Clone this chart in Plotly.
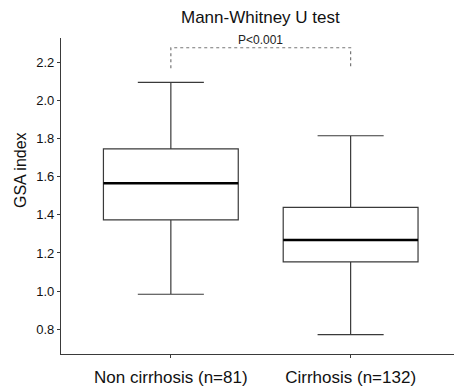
import plotly.graph_objects as go

# ---- data ----
categories = ["Non cirrhosis (n=81)", "Cirrhosis (n=132)"]
positions = [0, 1]
q1 = [1.373, 1.153]
median = [1.565, 1.268]
q3 = [1.745, 1.439]
lower_whisker = [0.984, 0.772]
upper_whisker = [2.094, 1.814]
y_ticks = [0.8, 1.0, 1.2, 1.4, 1.6, 1.8, 2.0, 2.2]
title_text = "Mann-Whitney U test"
p_text = "P<0.001"
y_title = "GSA index"

BOX_W = 0.75
FONT = "Liberation Sans, Arial, sans-serif"
LINE_C = "#3a3a3a"

W, H = 455, 386
ML, MR, MT, MB = 61, 1, 38, 32
PW, PH = W - ML - MR, H - MT - MB


def px_to_paper(px, py):
    return (px - ML) / PW, (H - MB - py) / PH


fig = go.Figure()
for i in range(len(categories)):
    fig.add_trace(go.Box(
        x=[positions[i]], q1=[q1[i]], median=[median[i]], q3=[q3[i]],
        lowerfence=[lower_whisker[i]], upperfence=[upper_whisker[i]],
        width=BOX_W, whiskerwidth=0.49,
        fillcolor="white", line=dict(color=LINE_C, width=1.2),
        boxpoints=False, showlegend=False, hoverinfo="skip",
    ))
    # thick median line
    fig.add_trace(go.Scatter(
        x=[positions[i] - BOX_W / 2, positions[i] + BOX_W / 2],
        y=[median[i], median[i]], mode="lines",
        line=dict(color="black", width=2.6), showlegend=False, hoverinfo="skip",
    ))

# significance bracket
br_top, br_bot = 2.275, 2.167
fig.add_shape(type="path",
              path=f"M {positions[0]},{br_bot} L {positions[0]},{br_top} L {positions[1]},{br_top} L {positions[1]},{br_bot}",
              xref="x", yref="y", line=dict(color="#777", width=1.2, dash="dot"))
fig.add_annotation(x=(positions[0] + positions[1]) / 2, y=br_top, xref="x", yref="y",
                   text=p_text, showarrow=False, yanchor="bottom", yshift=-1,
                   font=dict(family=FONT, size=12, color="#222"))
tx, ty = px_to_paper(260, 17)
fig.add_annotation(x=tx, y=ty, xref="paper", yref="paper",
                   text=title_text, showarrow=False, xanchor="center", yanchor="middle",
                   font=dict(family=FONT, size=17, color="#111"))
ax, ay = px_to_paper(20, 170)
fig.add_annotation(x=ax, y=ay, xref="paper", yref="paper",
                   text=y_title, showarrow=False, textangle=-90,
                   xanchor="center", yanchor="middle",
                   font=dict(family=FONT, size=16, color="#111"))

fig.update_layout(
    width=W, height=H,
    margin=dict(l=ML, r=MR, t=MT, b=MB, autoexpand=False),
    paper_bgcolor="white", plot_bgcolor="white",
    font=dict(family=FONT, color="#111"),
    xaxis=dict(range=[-0.611, 1.575], tickvals=positions, ticktext=categories,
               showline=True, linecolor=LINE_C, linewidth=1.2, showgrid=False,
               zeroline=False, ticks="outside", ticklen=3, tickcolor=LINE_C,
               tickfont=dict(size=17, family=FONT, color="#111"), ticklabelstandoff=4),
    yaxis=dict(range=[0.671, 2.326], tickvals=y_ticks,
               ticktext=[f"{v:.1f}" for v in y_ticks],
               showline=True, linecolor=LINE_C, linewidth=1.2, showgrid=False,
               zeroline=False, ticks="outside", ticklen=3, tickcolor=LINE_C,
               tickfont=dict(size=13, family=FONT, color="#111")),
)
fig.write_html("out.html")
